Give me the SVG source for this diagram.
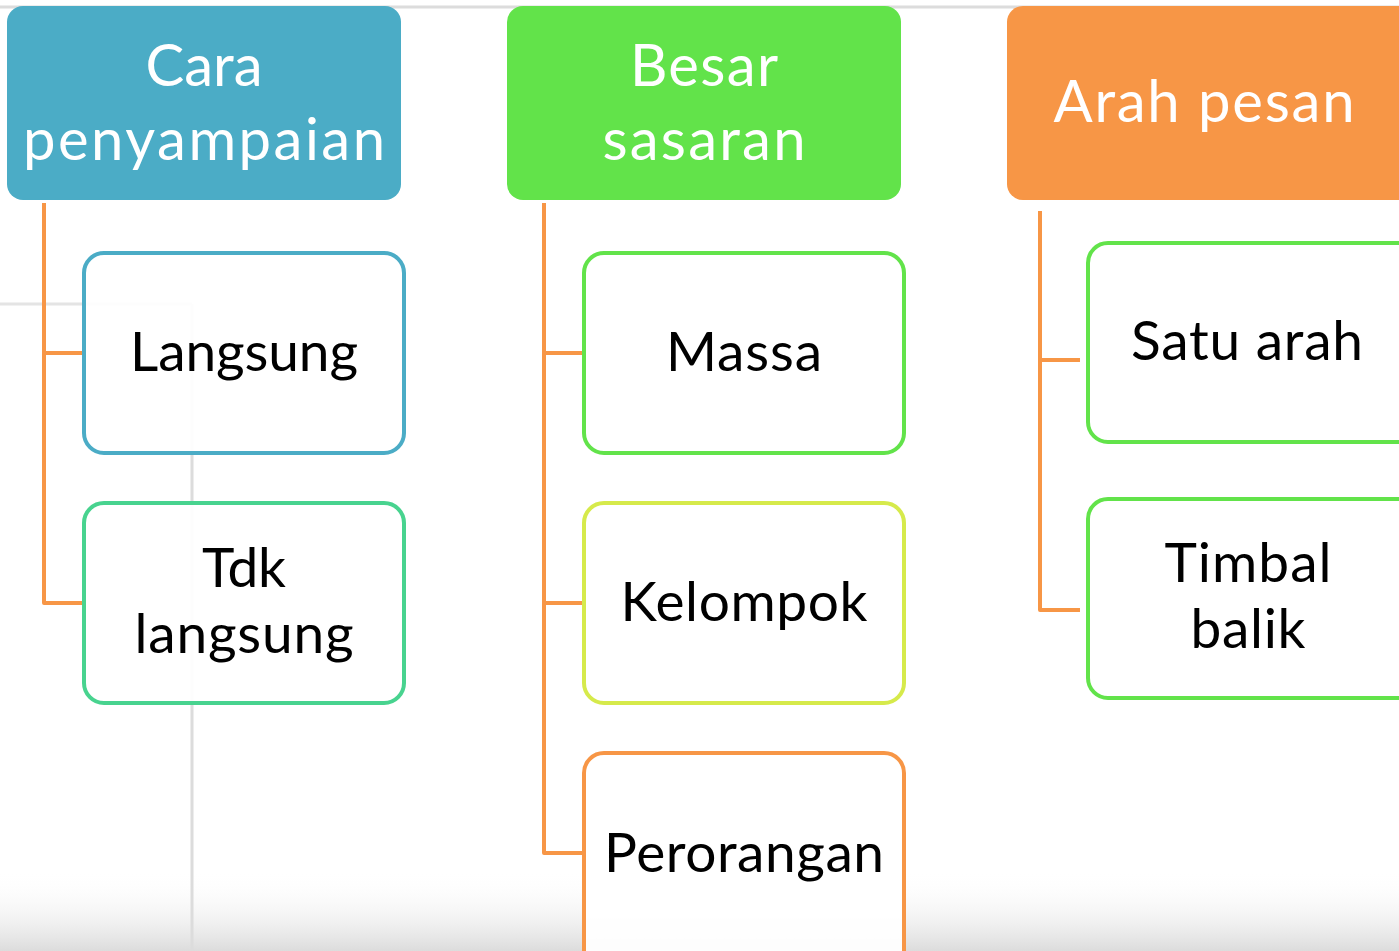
<svg xmlns="http://www.w3.org/2000/svg" width="1399" height="951" viewBox="0 0 1399 951">
<defs>
<linearGradient id="bottomShade" x1="0" y1="0" x2="0" y2="1">
<stop offset="0" stop-color="#ffffff" stop-opacity="0"/>
<stop offset="1" stop-color="#dcdcdc" stop-opacity="1"/>
</linearGradient>
<style>
.bgline{stroke:#dcdcdc;stroke-width:3;fill:none}
.head{stroke:none}
.htxt{font-family:Lato,"Open Sans","Liberation Sans",sans-serif;font-size:58px;fill:#ffffff;text-anchor:middle}
.ctxt{font-family:Lato,"Open Sans","Liberation Sans",sans-serif;font-size:55px;fill:#000000;text-anchor:middle}
.child{fill:#ffffff;fill-opacity:0.93;stroke-width:4}
.conn{stroke:#F79646;stroke-width:4;fill:none;stroke-linejoin:round}
</style>
</defs>
<rect x="0" y="0" width="1399" height="951" fill="#ffffff"/>
<rect x="0" y="870" width="1399" height="81" fill="url(#bottomShade)"/>
<g id="background">
<line class="bgline" x1="0" y1="7" x2="1399" y2="7" stroke="#e8e8e8"/>
<line class="bgline" x1="0" y1="304" x2="192" y2="304" style="stroke:#e4e4e4"/>
<line class="bgline" x1="192" y1="304" x2="192" y2="951"/>
</g>
<g id="connectors">
<path class="conn" d="M44,203 V603 H84 M44,353 H84"/>
<path class="conn" d="M544,203 V853 H584 M544,353 H584 M544,603 H584"/>
<path class="conn" d="M1040,211 V610 H1080 M1040,360 H1080"/>
</g>
<g id="node-cara">
<rect class="head" x="7" y="6" width="394" height="194" rx="16" fill="#4BACC6"/>
<text class="htxt" x="204" y="86" textLength="117">Cara</text>
<text class="htxt" x="204" y="160" textLength="362">penyampaian</text>
</g>
<g id="node-besar">
<rect class="head" x="507" y="6" width="394" height="194" rx="16" fill="#62E34A"/>
<text class="htxt" x="704" y="86" textLength="148">Besar</text>
<text class="htxt" x="704" y="160" textLength="203">sasaran</text>
</g>
<g id="node-arah">
<rect class="head" x="1007" y="6" width="410" height="194" rx="16" fill="#F79646"/>
<text class="htxt" x="1204" y="122" textLength="301">Arah pesan</text>
</g>
<g id="node-langsung">
<rect class="child" x="84" y="253" width="320" height="200" rx="20" stroke="#4BACC6"/>
<text class="ctxt" x="244" y="371" textLength="228">Langsung</text>
</g>
<g id="node-tdk">
<rect class="child" x="84" y="503" width="320" height="200" rx="20" stroke="#48D38F"/>
<text class="ctxt" x="244" y="587" textLength="84">Tdk</text>
<text class="ctxt" x="244" y="653" textLength="219">langsung</text>
</g>
<g id="node-massa">
<rect class="child" x="584" y="253" width="320" height="200" rx="20" stroke="#62E34A"/>
<text class="ctxt" x="744" y="371" textLength="156">Massa</text>
</g>
<g id="node-kelompok">
<rect class="child" x="584" y="503" width="320" height="200" rx="20" stroke="#D6EA4B"/>
<text class="ctxt" x="744" y="621" textLength="247">Kelompok</text>
</g>
<g id="node-perorangan">
<rect class="child" x="584" y="753" width="320" height="220" rx="20" stroke="#F79646"/>
<text class="ctxt" x="744" y="872" textLength="280">Perorangan</text>
</g>
<g id="node-satu">
<rect class="child" x="1088" y="243" width="330" height="199" rx="20" stroke="#62E34A"/>
<text class="ctxt" x="1247" y="360" textLength="232">Satu arah</text>
</g>
<g id="node-timbal">
<rect class="child" x="1088" y="499" width="330" height="199" rx="20" stroke="#62E34A"/>
<text class="ctxt" x="1248" y="582" textLength="167">Timbal</text>
<text class="ctxt" x="1248" y="648" textLength="115">balik</text>
</g>
</svg>
